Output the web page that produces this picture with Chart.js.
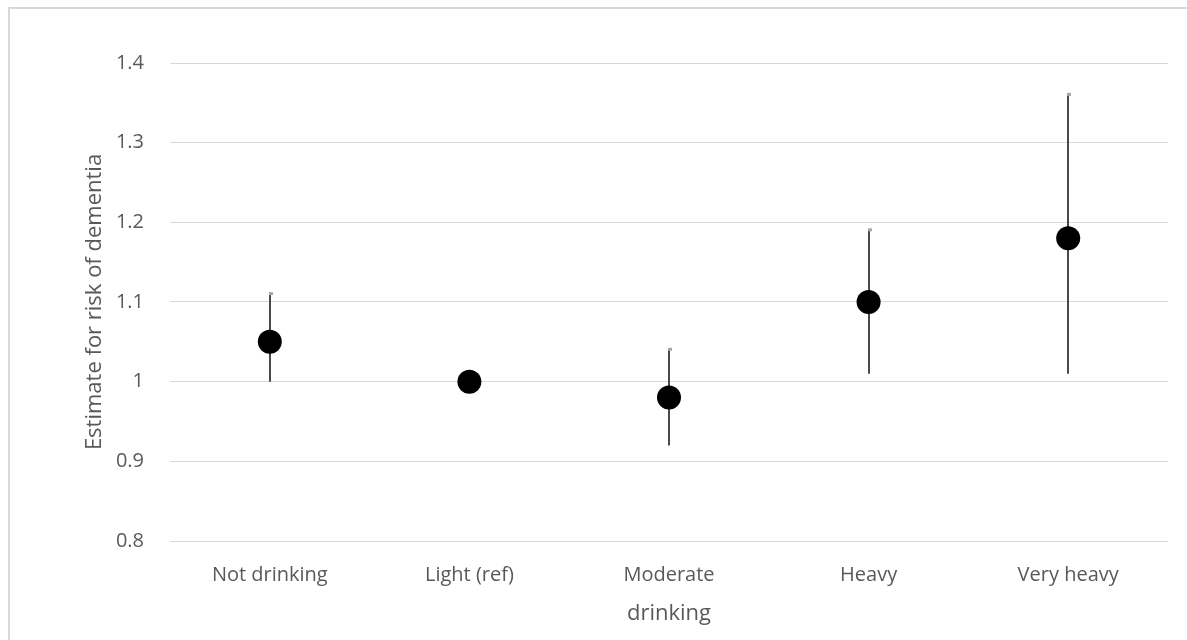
<!DOCTYPE html>
<html>
<head>
<meta charset="utf-8">
<script src="https://cdn.jsdelivr.net/npm/chart.js@4.4.1/dist/chart.umd.min.js"></script>
<style>
  html, body { margin: 0; padding: 0; background: #fff; overflow: hidden; }
  #wrap { position: relative; width: 1187px; height: 640px; }
  #frame { position: absolute; left: 8px; top: 7px; width: 1200px; height: 700px; border: 2px solid #d9d9d9; box-sizing: border-box; }
  canvas { position: absolute; left: 0; top: 0; }
</style>
</head>
<body>
<div id="wrap">
  <div id="frame"></div>
  <canvas id="c" width="1187" height="640"></canvas>
</div>
<script>
const categories = ['Not drinking', 'Light (ref)', 'Moderate', 'Heavy', 'Very heavy'];
const estimates = [1.05, 1.00, 0.98, 1.10, 1.18];
const lowerCI = [1.00, null, 0.92, 1.01, 1.01];
const upperCI = [1.11, null, 1.04, 1.19, 1.36];
const yTicks = [0.8, 0.9, 1, 1.1, 1.2, 1.3, 1.4];

const FONT = "'Open Sans', 'DejaVu Sans', sans-serif";

const errorBars = {
  id: 'errorBars',
  beforeDatasetsDraw(chart) {
    const ctx = chart.ctx;
    const xs = chart.scales.x, ys = chart.scales.y;
    ctx.save();
    for (let i = 0; i < categories.length; i++) {
      if (lowerCI[i] == null || upperCI[i] == null) continue;
      const x = Math.round(xs.getPixelForValue(i));
      const yl = ys.getPixelForValue(lowerCI[i]);
      const yu = ys.getPixelForValue(upperCI[i]);
      ctx.strokeStyle = '#4a4a4a';
      ctx.lineWidth = 2;
      ctx.beginPath();
      ctx.moveTo(x, yl);
      ctx.lineTo(x, yu);
      ctx.stroke();
      ctx.fillStyle = '#a6a6a6';
      ctx.fillRect(x - 1, yu - 2, 4, 3);
    }
    ctx.restore();
  }
};

new Chart(document.getElementById('c'), {
  type: 'line',
  data: {
    labels: categories,
    datasets: [{
      data: estimates,
      showLine: false,
      pointRadius: 12,
      pointHoverRadius: 12,
      pointBackgroundColor: '#000',
      pointBorderColor: '#000',
      pointBorderWidth: 0
    }]
  },
  plugins: [errorBars],
  options: {
    responsive: false,
    animation: false,
    events: [],
    layout: { padding: { left: 0, top: 63, right: 19, bottom: 0 } },
    plugins: { legend: { display: false }, tooltip: { enabled: false } },
    scales: {
      x: {
        type: 'category',
        offset: true,
        grid: { display: false },
        border: { display: false },
        ticks: { color: '#595959', font: { family: FONT, size: 20 }, padding: 14, maxRotation: 0 },
        title: { display: true, text: 'drinking', color: '#595959', font: { family: FONT, size: 22 }, padding: { top: 10, bottom: 13 } },
        afterFit(scale) { scale.height = 99; }
      },
      y: {
        min: 0.8,
        max: 1.4,
        afterBuildTicks(scale) { scale.ticks = yTicks.map(v => ({ value: v })); },
        grid: { color: '#d9d9d9', lineWidth: 1, drawTicks: false },
        border: { display: false },
        ticks: {
          color: '#595959',
          font: { family: FONT, size: 20 },
          padding: 26,
          callback: (v) => String(Math.round(v * 10) / 10)
        },
        title: { display: true, text: 'Estimate for risk of dementia', color: '#595959', font: { family: FONT, size: 22 }, padding: { top: 82, bottom: 0 } },
        afterFit(scale) { scale.width = 170; }
      }
    }
  }
});
</script>
</body>
</html>
